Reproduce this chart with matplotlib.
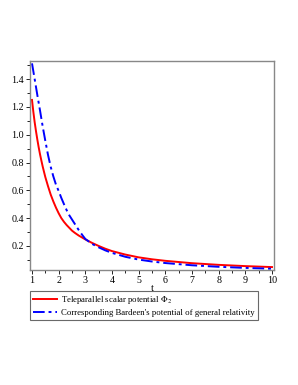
import matplotlib
matplotlib.use("Agg")
import matplotlib.pyplot as plt
from matplotlib.ticker import MultipleLocator

t_red = [1.0, 1.05, 1.1, 1.15, 1.2, 1.25, 1.3, 1.35, 1.4, 1.45, 1.5, 1.6, 1.7, 1.8, 1.9,
         2.0, 2.1, 2.2, 2.3, 2.4, 2.5, 2.6, 2.75, 3.0, 3.25, 3.5, 3.75, 4.0, 4.5, 5.0,
         5.5, 6.0, 7.0, 8.0, 9.0, 10.0]
phi2 = [1.25, 1.165, 1.09, 1.025, 0.965, 0.91, 0.86, 0.815, 0.772, 0.733, 0.695, 0.63, 0.57, 0.52, 0.475,
        0.435, 0.40, 0.373, 0.35, 0.33, 0.31, 0.295, 0.275, 0.247, 0.222, 0.20, 0.18, 0.163, 0.138, 0.118,
        0.104, 0.093, 0.076, 0.064, 0.055, 0.048]

t_blue = [1.0, 1.1, 1.2, 1.3, 1.4, 1.5, 1.6, 1.7, 1.8, 1.9, 2.0, 2.1, 2.2, 2.3, 2.4, 2.5,
          2.6, 2.75, 2.9, 3.0, 3.25, 3.5, 3.75, 4.0, 4.5, 5.0, 5.5, 6.0, 7.0, 8.0, 9.0, 10.0]
bardeen = [1.513, 1.40, 1.285, 1.175, 1.06, 0.955, 0.855, 0.77, 0.70, 0.64, 0.595, 0.545, 0.50, 0.457, 0.42, 0.39,
           0.36, 0.315, 0.275, 0.25, 0.215, 0.19, 0.168, 0.15, 0.122, 0.102, 0.088, 0.077, 0.061, 0.05, 0.042, 0.036]

label_red = r"Teleparallel scalar potential $\Phi_2$"
label_blue = "Corresponding Bardeen's potential of general relativity"

plt.rcParams['font.family'] = ['Liberation Serif', 'DejaVu Serif']
plt.rcParams['mathtext.fontset'] = 'stix'

fig = plt.figure(figsize=(2.98, 3.85), dpi=100)
ax = fig.add_axes([30/298, 1-270/385, 244/298, 209/385])

l1, = ax.plot(t_red, phi2, color='red', lw=1.4, label=label_red)
l2, = ax.plot(t_blue, bardeen, color='blue', lw=1.4, ls=(0, (6, 2, 1.5, 2)), label=label_blue)

ax.set_xlim(0.925, 10.075)
ax.set_ylim(0.027, 1.53)
ax.xaxis.set_major_locator(MultipleLocator(1))
ax.xaxis.set_minor_locator(MultipleLocator(0.5))
ax.yaxis.set_minor_locator(MultipleLocator(0.1))
ax.set_yticks([0.2, 0.4, 0.6, 0.8, 1.0, 1.2, 1.4])
ax.set_yticklabels(["0.2", "0.4", "0.6", "0.8", "1.0", "1.2", "1.4"])
ax.tick_params(which='both', direction='out', top=False, right=False, labelsize=7.2,
               color='black', width=0.6, pad=1.5)
ax.tick_params(which='major', length=3)
ax.tick_params(which='minor', length=2)
for s in ax.spines.values():
    s.set_color('#888888')
    s.set_linewidth(1.0)

ax.set_xlabel("t", fontsize=7.2, labelpad=-1)

leg = fig.legend(handles=[l1, l2], loc='upper left', bbox_to_anchor=(30/298, 1-291/385),
                 fontsize=6.35, frameon=True, fancybox=False, shadow=False,
                 handlelength=2.7, handletextpad=0.5, borderpad=0.35, labelspacing=0.3,
                 borderaxespad=0)
leg.get_frame().set_edgecolor('#444444')
leg.get_frame().set_linewidth(0.8)

fig.savefig("out.png", dpi=100)
